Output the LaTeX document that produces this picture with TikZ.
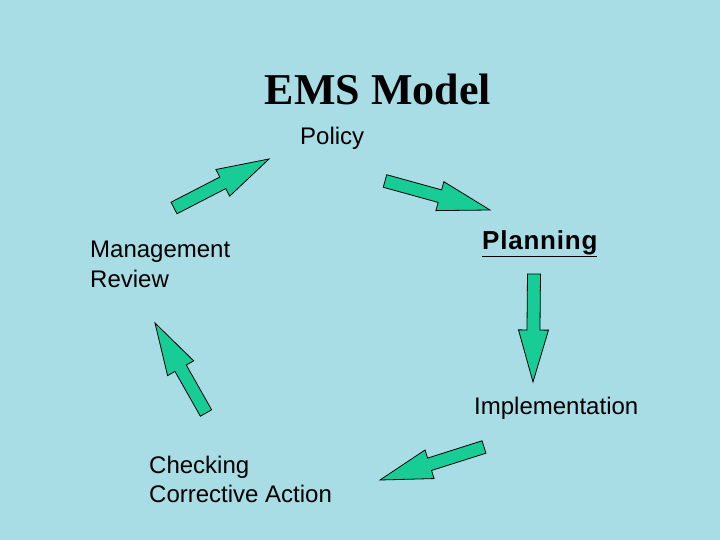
\documentclass[tikz,border=0pt]{standalone}
\usepackage{fontspec}
\setmainfont{Liberation Sans}
\newfontfamily\titlefont{Liberation Serif}
\usetikzlibrary{calc}
\definecolor{bgcyan}{RGB}{168,221,230}
\definecolor{arrowgreen}{RGB}{24,204,150}
% fat arrow from one coordinate to another
\newcommand{\fatarrow}[2]{%
	\coordinate (h) at ($(#2)!52pt!(#1)$);
	\draw[fatarrow] ($(#1)!6.5pt!90:(#2)$) -- ($(h)!6.5pt!90:(#2)$) -- ($(h)!15pt!90:(#2)$)
		-- (#2) -- ($(h)!15pt!-90:(#2)$) -- ($(h)!6.5pt!-90:(#2)$) -- ($(#1)!6.5pt!-90:(#2)$) -- cycle;
}
\begin{document}
\begin{tikzpicture}[x=1pt, y=-1pt,
	fatarrow/.style={ draw=black, line width=0.8pt, fill=arrowgreen, line join=miter },
	step text/.style={ anchor=base west, inner sep=0pt, font=\fontsize{24}{29}\selectfont, align=left }
]
	\fill[bgcyan] (0,0) rectangle (720,540);
	\useasboundingbox (0,0) rectangle (720,540);
	\node at (378,105) (title) [anchor=base, inner sep=0pt, font=\titlefont\fontsize{44}{48}\selectfont\bfseries] {EMS Model};
	\node at (300,145) (policy) [step text] {Policy};
	\node at (482,249) (planning) [step text, font=\fontsize{26}{29}\selectfont] {\bfseries\addfontfeature{LetterSpace=3}\underline{Planning}};
	\node at (474,414) (impl) [step text] {Implementation};
	% base anchor sits on the last line
	\node at (149,502) (check) [step text] {Checking\\Corrective Action};
	\node at (90,287) (review) [step text] {Management\\Review};
	\coordinate (r1) at (174,208); \coordinate (p1) at (269,159);
	\coordinate (p2) at (385,181); \coordinate (l1) at (490,210);
	\coordinate (l2) at (534,274); \coordinate (i1) at (533,382);
	\coordinate (i2) at (484,447); \coordinate (c1) at (380,480);
	\coordinate (c2) at (206,413); \coordinate (r2) at (155,323);
	\fatarrow{r1}{p1}
	\fatarrow{p2}{l1}
	\fatarrow{l2}{i1}
	\fatarrow{i2}{c1}
	\fatarrow{c2}{r2}
\end{tikzpicture}
\end{document}
